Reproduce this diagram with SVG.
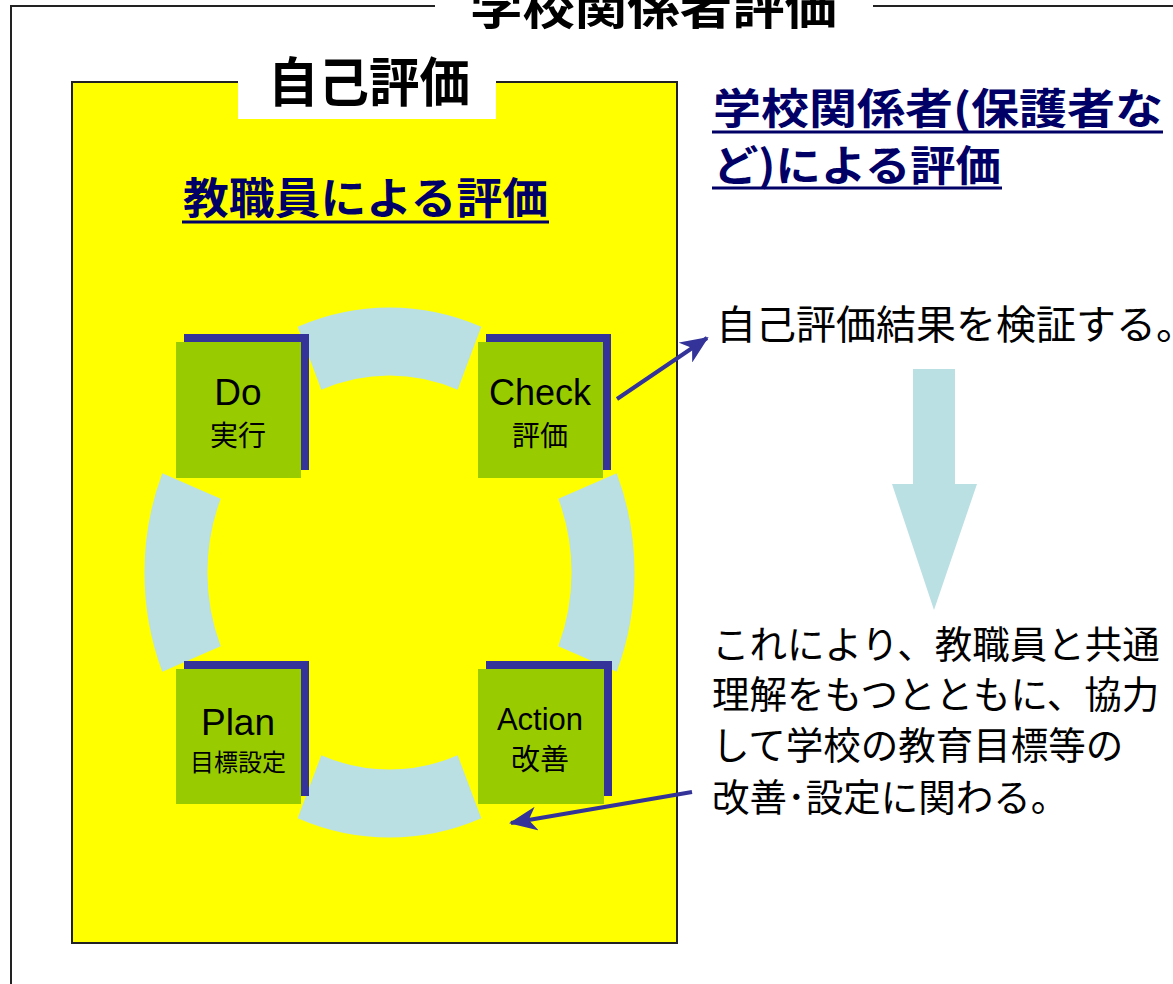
<svg xmlns="http://www.w3.org/2000/svg" width="1173" height="984" viewBox="0 0 1173 984">
  <style>
    .jp { font-family: "Noto Sans CJK JP", "Liberation Sans", sans-serif; }
    .lat { font-family: "Liberation Sans", "Noto Sans CJK JP", sans-serif; }
    .frame { stroke: #222; stroke-width: 2; fill: none; }
    .ring { fill: #bbe0e3; }
    .card { fill: #99cc00; }
    .shadow { fill: #333399; }
    .navy { fill: #000066; }
    .ul { stroke: #000066; stroke-width: 3; }
    .conn { stroke: #333399; stroke-width: 4; fill: none; }
    .ctr { text-anchor: middle; }
  </style>
  <defs>
    <marker id="ah" markerUnits="userSpaceOnUse" markerWidth="28" markerHeight="24" refX="26" refY="12" orient="auto">
      <path d="M0,0 L28,12 L0,24 L8,12 Z" fill="#333399"/>
    </marker>
  </defs>
  <rect width="1173" height="984" fill="#ffffff"/>

  <g id="outer-frame">
    <path class="frame" d="M11,984 L11,6 L435,6 M873,6 L1173,6"/>
    <text class="jp" x="470" y="24" font-size="46" font-weight="bold" textLength="367" lengthAdjust="spacingAndGlyphs">学校関係者評価</text>
  </g>

  <g id="self-eval">
    <rect x="72" y="82" width="605" height="861" fill="#ffff00" stroke="#222" stroke-width="2"/>
    <rect x="238" y="50" width="258" height="69" fill="#ffffff"/>
    <text class="jp" x="268" y="102" font-size="53" font-weight="bold" textLength="202" lengthAdjust="spacingAndGlyphs">自己評価</text>
    <text class="jp navy" x="183" y="214" font-size="43" font-weight="bold" textLength="365" lengthAdjust="spacingAndGlyphs">教職員による評価</text>
    <line class="ul" x1="182" y1="222" x2="549" y2="222"/>
  </g>

  <g id="cycle">
    <path class="ring" d="M297.7,326.8 A245,265 0 0 1 481.3,326.8 L457.7,389.8 A182,197 0 0 0 321.3,389.8 Z"/>
    <path class="ring" d="M616.7,473.2 A245,265 0 0 1 616.7,671.8 L558.3,646.3 A182,197 0 0 0 558.3,498.7 Z"/>
    <path class="ring" d="M481.3,818.2 A245,265 0 0 1 297.7,818.2 L321.3,755.2 A182,197 0 0 0 457.7,755.2 Z"/>
    <path class="ring" d="M162.3,671.8 A245,265 0 0 1 162.3,473.2 L220.7,498.7 A182,197 0 0 0 220.7,646.3 Z"/>
  </g>

  <g id="do">
    <rect class="shadow" x="184" y="334" width="125" height="136"/>
    <rect class="card" x="176" y="342" width="125" height="136"/>
    <text class="lat ctr" x="238" y="405" font-size="37">Do</text>
    <text class="jp ctr" x="238" y="446" font-size="28">実行</text>
  </g>

  <g id="check">
    <rect class="shadow" x="486" y="334" width="125" height="136"/>
    <rect class="card" x="478" y="342" width="125" height="136"/>
    <text class="lat ctr" x="540" y="405" font-size="36">Check</text>
    <text class="jp ctr" x="540" y="446" font-size="28">評価</text>
  </g>

  <g id="plan">
    <rect class="shadow" x="184" y="661" width="125" height="135"/>
    <rect class="card" x="176" y="669" width="125" height="135"/>
    <text class="lat ctr" x="238" y="735" font-size="37">Plan</text>
    <text class="jp ctr" x="238" y="771" font-size="24">目標設定</text>
  </g>

  <g id="action">
    <rect class="shadow" x="486" y="661" width="126" height="135"/>
    <rect class="card" x="478" y="669" width="126" height="135"/>
    <text class="lat ctr" x="540" y="730" font-size="31">Action</text>
    <text class="jp ctr" x="540" y="770" font-size="29">改善</text>
  </g>

  <g id="stakeholder-eval">
    <text class="jp navy" x="713" y="124" font-size="42" font-weight="bold" textLength="450" lengthAdjust="spacingAndGlyphs">学校関係者(保護者な</text>
    <line class="ul" x1="712" y1="132" x2="1163" y2="132"/>
    <text class="jp navy" x="713" y="181" font-size="42" font-weight="bold" textLength="288" lengthAdjust="spacingAndGlyphs">ど)による評価</text>
    <line class="ul" x1="712" y1="188" x2="1002" y2="188"/>
  </g>

  <g id="verify">
    <text class="jp" x="716" y="339" font-size="40">自己評価結果を検証する。</text>
  </g>

  <g id="big-arrow">
    <path class="ring" d="M913,369 L955,369 L955,484 L977,484 L934,610 L892,484 L913,484 Z"/>
  </g>

  <g id="result">
    <text class="jp" font-size="37.5">
      <tspan x="712" y="658">これにより、教職員と共通</tspan>
      <tspan x="712" y="708">理解をもつとともに、協力</tspan>
      <tspan x="712" y="759">して学校の教育目標等の</tspan>
      <tspan x="712" y="811">改善･設定に関わる。</tspan>
    </text>
  </g>

  <g id="connectors">
    <line class="conn" x1="617" y1="399" x2="707" y2="338" marker-end="url(#ah)"/>
    <line class="conn" x1="692" y1="792" x2="511" y2="823" marker-end="url(#ah)"/>
  </g>
</svg>
